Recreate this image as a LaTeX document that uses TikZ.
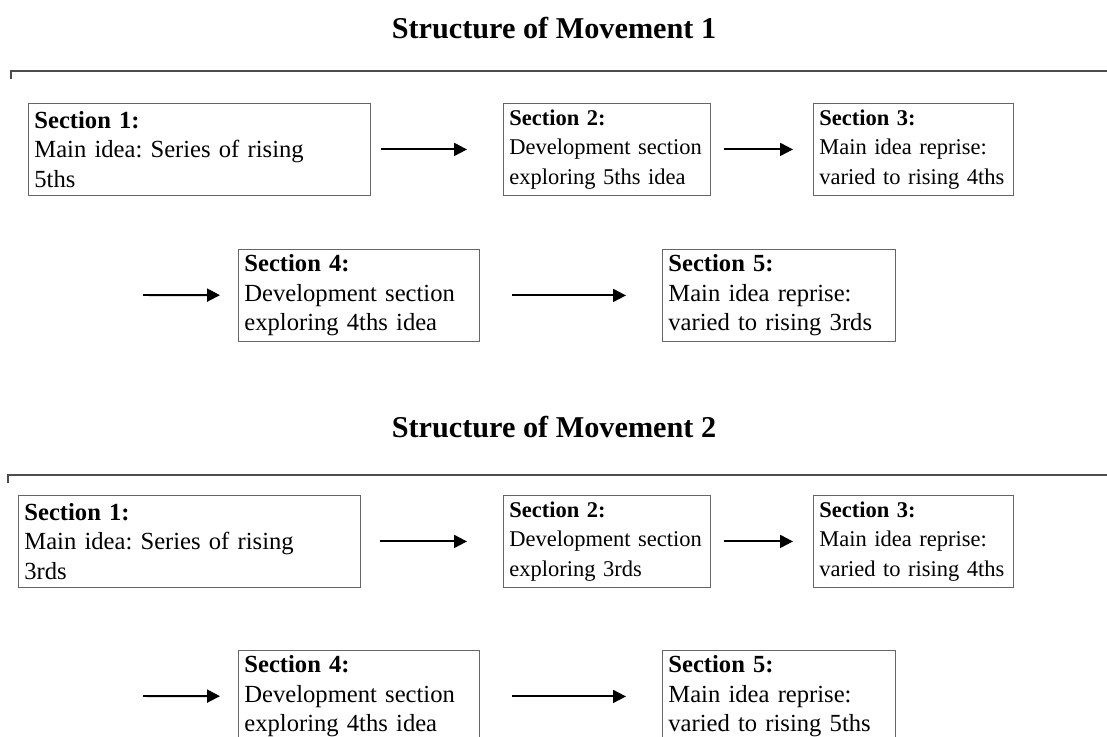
\documentclass[tikz,border=0pt]{standalone}
\usepackage{fontspec}
\setmainfont{Liberation Serif}
\usetikzlibrary{arrows.meta}
\frenchspacing

\begin{document}
\begin{tikzpicture}
    [%%%%%%%%%%%%%%%%%%%%%%%%%%%%%%
        x=0.025cm, y=-0.025cm,
        sect/.style={rectangle,draw=black!60,line width=0.6pt,anchor=north west,
            minimum height=2.3cm,inner xsep=0.15cm,inner ysep=0pt,align=left,
            text width=#1,font=\fontsize{16}{21}\selectfont},
        wide/.style={font=\fontsize{17.5}{21}\selectfont},
        arr/.style={-{Triangle[length=0.32cm,width=0.32cm]},line width=1.4pt},
        ttl/.style={font=\fontsize{21.5}{25}\selectfont\bfseries},
        rule/.style={draw=black!70,line width=0.9pt}
    ]%%%%%%%%%%%%%%%%%%%%%%%%%%%%%%

\useasboundingbox (0,0) rectangle (1107,737);
\clip (0,0) rectangle (1107,737);

% movement 1
\node[ttl] (t1) at (554,28) {Structure of Movement 1};
\node[sect=8.25cm,wide] (a1) at (28,103) {\textbf{Section 1:}\\Main idea: Series of rising\\5ths};
\node[sect=4.875cm] (a2) at (503,103) {\textbf{Section 2:}\\Development section\\exploring 5ths idea};
\node[sect=4.7cm] (a3) at (813,103) {\textbf{Section 3:}\\Main idea reprise:\\varied to rising 4ths};
\node[sect=5.725cm,wide] (a4) at (238,249) {\textbf{Section 4:}\\Development section\\exploring 4ths idea};
\node[sect=5.525cm,wide] (a5) at (662,249) {\textbf{Section 5:}\\Main idea reprise:\\varied to rising 3rds};
\coordinate (c1) at (143,295);

% movement 2
\node[ttl] (t2) at (554,427) {Structure of Movement 2};
\node[sect=8.25cm,wide] (b1) at (18,495) {\textbf{Section 1:}\\Main idea: Series of rising\\3rds};
\node[sect=4.875cm] (b2) at (503,495) {\textbf{Section 2:}\\Development section\\exploring 3rds};
\node[sect=4.7cm] (b3) at (813,495) {\textbf{Section 3:}\\Main idea reprise:\\varied to rising 4ths};
\node[sect=5.725cm,wide] (b4) at (238,650) {\textbf{Section 4:}\\Development section\\exploring 4ths idea};
\node[sect=5.525cm,wide] (b5) at (662,650) {\textbf{Section 5:}\\Main idea reprise:\\varied to rising 5ths};
\coordinate (c2) at (143,696);

\foreach \x/\y in {11/71, 8/475}
    \draw[rule] (\x,\y+8) -- (\x,\y) -- (1107,\y);

\foreach \p/\q/\s/\e in {a1/a2/2.5mm/9mm, a2/a3/3.25mm/5mm, c1/a4/0mm/4.5mm, a4/a5/8mm/9mm,
                         b1/b2/4.75mm/9mm, b2/b3/3.25mm/5mm, c2/b4/0mm/4.5mm, b4/b5/8mm/9mm}
    \draw[arr,shorten <=\s,shorten >=\e] (\p) -- (\q);

\end{tikzpicture}
\end{document}
